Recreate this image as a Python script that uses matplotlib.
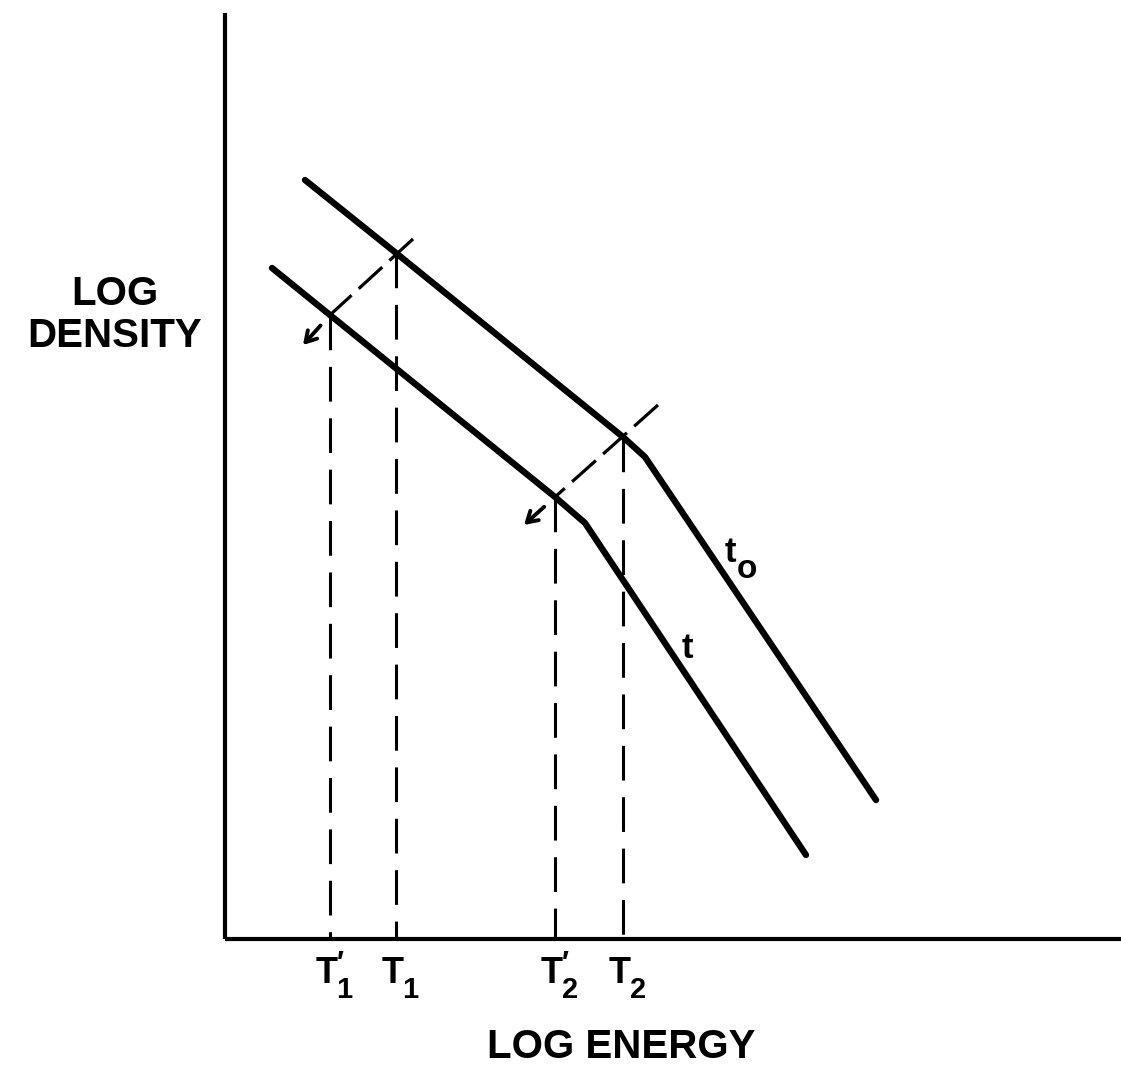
"""Schematic: log density vs log energy, shift of the spectrum from t0 to t."""
import matplotlib
matplotlib.use("Agg")
import matplotlib.pyplot as plt

plt.rcParams["font.family"] = ["Liberation Sans", "DejaVu Sans"]
plt.rcParams["font.weight"] = "bold"
plt.rcParams["mathtext.fontset"] = "custom"
plt.rcParams["mathtext.rm"] = "Liberation Sans:bold"
plt.rcParams["mathtext.bf"] = "Liberation Sans:bold"
plt.rcParams["mathtext.it"] = "Liberation Sans:bold"
plt.rcParams["mathtext.fallback"] = "stixsans"
plt.rcParams["lines.scale_dashes"] = False

# Broken power-law spectra (log energy, log density), arbitrary units
t0_x = [0.80, 1.71, 3.98, 4.20, 6.51]
t0_y = [7.59, 6.86, 5.02, 4.82, 1.39]
t_x = [0.47, 1.05, 3.30, 3.60, 5.81]
t_y = [6.71, 6.24, 4.42, 4.16, 0.84]

# Characteristic energies and where they sit on the curves
T_index = [r"$^{\prime}_{1}$", r"$^{\,}_{1}$", r"$^{\prime}_{2}$", r"$^{\,}_{2}$"]
T_x = [t_x[1], t0_x[1], t_x[2], t0_x[2]]
T_y = [t_y[1], t0_y[1], t_y[2], t0_y[2]]

# Dashed shift arrows (start, end on the lower curve, arrow tip)
shift_1 = [(1.88, 7.00), (1.05, 6.24), (0.78, 5.94)]
shift_2 = [(4.33, 5.34), (3.30, 4.42), (2.99, 4.14)]

XMAX, YMAX = 8.96, 9.26

fig = plt.figure(figsize=(11.21, 10.77), dpi=100)
ax = fig.add_axes([225 / 1121, 138 / 1077, 896 / 1121, 926 / 1077])
ax.set_xlim(0, XMAX)
ax.set_ylim(0, YMAX)
for side in ("top", "right"):
    ax.spines[side].set_visible(False)
for side in ("left", "bottom"):
    ax.spines[side].set_linewidth(3.0)
    ax.spines[side].set_capstyle("butt")
ax.set_xticks([])
ax.set_yticks([])

ink = "black"
ax.plot(t0_x, t0_y, color=ink, lw=4.6, solid_capstyle="round", solid_joinstyle="round")
ax.plot(t_x, t_y, color=ink, lw=4.6, solid_capstyle="round", solid_joinstyle="round")

# Dashed drop lines down to the energy axis
for x, y in zip(T_x, T_y):
    ax.plot([x, x], [y, 0], color=ink, lw=2.2, linestyle=(0, (25, 12)))

# Dashed shift lines with open arrow heads
for start, mid, tip in (shift_1, shift_2):
    ax.plot([start[0], mid[0]], [start[1], mid[1]], color=ink, lw=2.3,
            linestyle=(0, (23, 7)))
    sx = mid[0] + 0.35 * (tip[0] - mid[0])
    sy = mid[1] + 0.35 * (tip[1] - mid[1])
    ax.annotate("", xy=tip, xytext=(sx, sy),
                arrowprops=dict(arrowstyle="->,head_length=0.75,head_width=0.45",
                                color=ink, lw=2.8, shrinkA=0, shrinkB=0))

# Energy labels under the axis: T plus a stacked prime / index
for idx, x in zip(T_index, T_x):
    ax.annotate("T", xy=(x, 0), xytext=(-10.5, -31.7), textcoords="offset points",
                ha="left", va="baseline", fontsize=26)
    ax.annotate(idx, xy=(x, 0), xytext=(4.5, -35), textcoords="offset points",
                ha="left", va="baseline", fontsize=30)

# Curve labels
ax.text(5.05, 3.87, "t", fontsize=25, ha="center", va="center")
ax.text(5.22, 3.70, "o", fontsize=24, ha="center", va="center")
ax.text(4.62, 2.91, "t", fontsize=25, ha="center", va="center")

# Axis titles
fig.text(621 / 1121, 1 - 1047 / 1077, "LOG ENERGY", fontsize=29,
         ha="center", va="center")
fig.text(115 / 1121, 1 - 315 / 1077, "LOG\nDENSITY", fontsize=29,
         ha="center", va="center", linespacing=1.15)

fig.savefig("out.png", dpi=100)
